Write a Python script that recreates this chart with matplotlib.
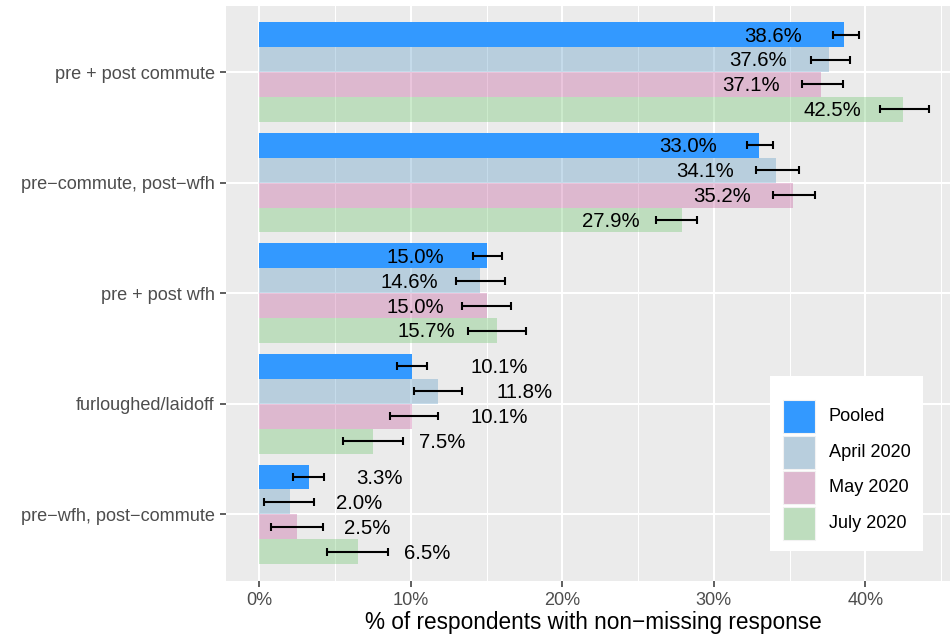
import matplotlib
matplotlib.use("Agg")
import matplotlib.pyplot as plt
from matplotlib.patches import Rectangle
from matplotlib.transforms import Affine2D
from matplotlib.ticker import FixedLocator, FuncFormatter
import numpy as np

plt.rcParams["font.family"] = ["Liberation Sans", "DejaVu Sans"]

# ---- data -------------------------------------------------------------
categories = ["pre + post commute", "pre\u2212commute, post\u2212wfh", "pre + post wfh",
              "furloughed/laidoff", "pre\u2212wfh, post\u2212commute"]
series = ["Pooled", "April 2020", "May 2020", "July 2020"]

pooled = [38.6, 33.0, 15.0, 10.1, 3.3]
april = [37.6, 34.1, 14.6, 11.8, 2.0]
may = [37.1, 35.2, 15.0, 10.1, 2.5]
july = [42.5, 27.9, 15.7, 7.5, 6.5]

pooled_lo = [37.9, 32.2, 14.1, 9.1, 2.2]
pooled_hi = [39.6, 33.9, 16.0, 11.1, 4.3]
april_lo = [36.4, 32.8, 13.0, 10.2, 0.3]
april_hi = [39.0, 35.6, 16.2, 13.4, 3.6]
may_lo = [35.8, 33.9, 13.4, 8.6, 0.8]
may_hi = [38.5, 36.7, 16.6, 11.8, 4.2]
july_lo = [41.0, 26.2, 13.8, 5.5, 4.5]
july_hi = [44.2, 28.9, 17.6, 9.5, 8.5]

x_ticks = [0, 10, 20, 30, 40]

# ---- style ------------------------------------------------------------
W, H, DPI = 950, 635, 100
panel_bg = "#EBEBEB"
colors = ["#3399FF", (89/255, 152/255, 195/255), (195/255, 89/255, 155/255), (108/255, 195/255, 108/255)]
alphas = [1.0, 0.35, 0.35, 0.35]
# colours of the keys as they appear over the panel background
key_colors = ["#3399FF", "#B8CEDD", "#DDB8CF", "#BEDDBE"]

values = [pooled, april, may, july]
lows = [pooled_lo, april_lo, may_lo, july_lo]
highs = [pooled_hi, april_hi, may_hi, july_hi]

fig = plt.figure(figsize=(W / DPI, H / DPI), dpi=DPI)
px = Affine2D().scale(1 / W, -1 / H).translate(0, 1) + fig.transFigure

x_lo, x_hi = -2.21, 46.41
left_px, right_px = 225.8, 962.4
top_px, bottom_px = 5.7, 580.7
ax = fig.add_axes([left_px / W, (H - bottom_px) / H,
                   (right_px - left_px) / W, (bottom_px - top_px) / H])
ax.set_facecolor(panel_bg)
for s in ax.spines.values():
    s.set_visible(False)

ax.set_xlim(x_lo, x_hi)
ax.set_ylim(len(categories) + 0.6, 0.4)

cat_y = np.arange(1, len(categories) + 1)
bar_h = 0.9 / len(series)

# grid
ax.xaxis.set_major_locator(FixedLocator(x_ticks))
ax.xaxis.set_minor_locator(FixedLocator([5, 15, 25, 35, 45]))
ax.yaxis.set_major_locator(FixedLocator(cat_y))
ax.grid(which="major", color="white", linewidth=1.45)
ax.grid(which="minor", axis="x", color="white", linewidth=0.75)
ax.set_axisbelow(True)

ax.xaxis.set_major_formatter(FuncFormatter(lambda v, p: f"{v:.0f}%"))
ax.set_yticklabels(categories)
ax.tick_params(axis="both", which="major", length=4.3, width=1.1, color="#333333",
               labelcolor="#4D4D4D", labelsize=13.1, pad=3.6)
ax.tick_params(axis="x", which="minor", length=0)

label_size = 14.7
for j, (name, vals, lo, hi) in enumerate(zip(series, values, lows, highs)):
    ys = cat_y + (j - 1.5) * bar_h
    ax.barh(ys, vals, height=bar_h, color=colors[j], alpha=alphas[j], linewidth=0, zorder=2)
    vals_a = np.array(vals)
    ax.errorbar(vals, ys, xerr=[vals_a - np.array(lo), np.array(hi) - vals_a],
                fmt="none", ecolor="black", elinewidth=1.5, capsize=3.0, capthick=1.5, zorder=3)
    for v, y in zip(vals, ys):
        txt = f"{v:.1f}%"
        if v >= 12:
            ax.annotate(txt, (v, y), xytext=(-30.2, -1), textcoords="offset points",
                        ha="right", va="center", fontsize=label_size, color="black", zorder=4)
        else:
            off = len(txt) * 11.6 * 72 / DPI
            ax.annotate(txt, (v, y), xytext=(off, -1), textcoords="offset points",
                        ha="left", va="center", fontsize=label_size, color="black", zorder=4)

ax.set_xlabel("% of respondents with non\u2212missing response", fontsize=16.3, color="black")
ax.xaxis.label.set_verticalalignment("top")
ax.xaxis.set_label_coords((593 - left_px) / (right_px - left_px),
                          -(611 - bottom_px) / (bottom_px - top_px))

# legend
fig.add_artist(Rectangle((770, 376), 152.7, 175, transform=px, facecolor="white",
                         edgecolor="none", zorder=5))
key_tops = [400, 435.7, 471.2, 506.8]
for name, kc, kt in zip(series, key_colors, key_tops):
    fig.add_artist(Rectangle((782.7, kt), 32.3, 33, transform=px, facecolor=kc,
                             edgecolor="#F2F2F2", linewidth=0.8, zorder=6))
    fig.text(829, kt + 16.5, name, transform=px, ha="left", va="center",
             fontsize=13.1, color="black", zorder=7)

fig.savefig("out.png", dpi=DPI)
